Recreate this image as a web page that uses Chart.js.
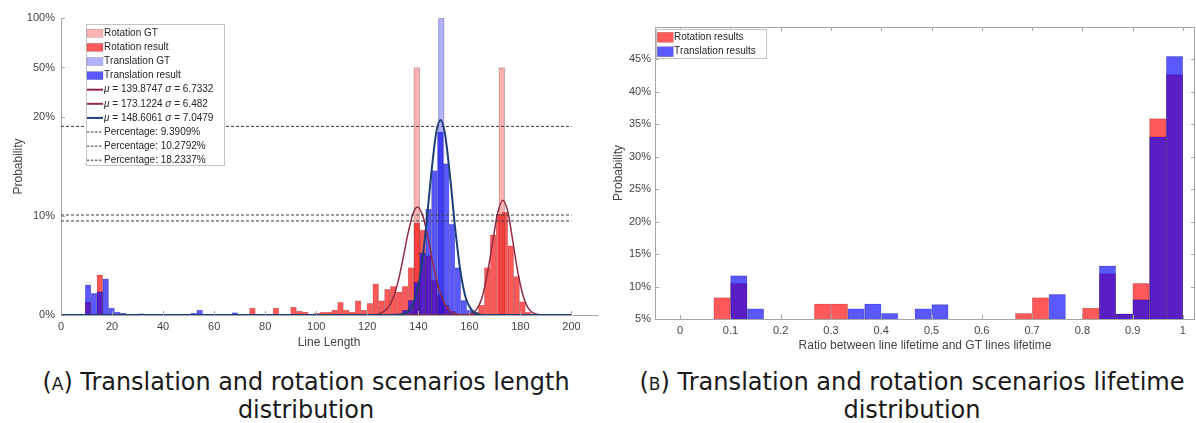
<!DOCTYPE html>
<html><head><meta charset="utf-8">
<script src="https://cdn.jsdelivr.net/npm/chart.js@4.4.0/dist/chart.umd.min.js"></script>
<style>
html,body{margin:0;padding:0;background:#fff;width:1196px;height:423px;overflow:hidden;}
#wrapA{position:absolute;left:0;top:0;width:600px;height:360px;}
#wrapB{position:absolute;left:600px;top:0;width:596px;height:360px;}
.cap{position:absolute;font-family:"DejaVu Sans",sans-serif;font-size:23.5px;color:#1a1a1a;text-align:center;line-height:28px;white-space:nowrap;}
.sc{font-variant:small-caps;}
</style></head><body>
<div id="wrapA"><canvas id="cA" width="600" height="360" style="width:600px;height:360px"></canvas></div>
<div id="wrapB"><canvas id="cB" width="596" height="360" style="width:596px;height:360px"></canvas></div>
<div class="cap" id="capA" style="left:6px;top:368px;width:600px;"><span class="l1">(<span class="sc">a</span>) Translation and rotation scenarios length</span><br>distribution</div>
<div class="cap" id="capB" style="left:612px;top:368px;width:600px;"><span class="l1">(<span class="sc">b</span>) Translation and rotation scenarios lifetime</span><br>distribution</div>
<script>
const FONT = '"Liberation Sans", Arial, sans-serif';
Chart.defaults.font.family = FONT;
Chart.defaults.color = '#444';

// ===== (A) length distribution =====
const lengthXTicks = [0,20,40,60,80,100,120,140,160,180,200];
const lengthYTickPct = [0,10,20,50,100];
const lengthYTickLabels = ['0%','10%','20%','50%','100%'];

const rotGTX = [139.4, 172.7];
const rotGTPct = [50, 50];
const rotResultX = [10.6,15.2,75.0,84.2,91.1,93.4,95.7,100.3,102.6,104.9,107.2,109.5,111.8,114.1,116.4,118.7,121.0,123.3,125.6,127.9,130.2,132.5,134.8,137.1,139.4,141.7,144.0,146.3,148.6,150.9,153.2,162.4,164.7,167.0,169.3,171.6,173.9,176.2,178.5,180.8,183.1];
const rotResultPct = [1.35,4.07,0.7,0.7,0.8,0.4,0.3,0.2,0.3,0.3,0.5,1.3,0.5,0.3,1.45,0.5,1.2,3.15,1.45,2.6,2.9,2.35,2.9,4.8,9.3,8.6,6.0,3.5,2.0,1.0,0.4,0.3,1.0,4.8,8.1,10.2,10.4,7.0,3.9,1.35,0.3];
const transGTX = [149.0];
const transGTPct = [100];
const transResultX = [10.6,12.9,15.2,17.5,19.8,22.1,24.4,29.0,31.3,40.5,52.0,54.3,68.1,134.8,137.1,139.4,141.7,144.0,146.3,148.6,150.9,153.2,155.5,157.8,160.1,162.4];
const transResultPct = [3.05,2.2,2.37,3.66,0.7,0.3,0.2,0.1,0.15,0.1,0.2,0.5,0.25,0.5,1.5,3.3,6.3,10.7,14.6,18.5,15.3,9.2,4.8,1.5,0.5,0.2];

const rotFit1X = [0,110,122,125,128,130,132,134,136,138,139.7,142,144,146,148,150,152,155,158,200];
const rotFit1Pct = [0,0,0.02,0.14,0.7,1.65,3.3,5.7,8.3,10.3,10.9,9.8,7.5,4.9,2.7,1.3,0.5,0.1,0.01,0];
const rotFit2X = [0,155,160,163,165,167,169,171,173.1,175,177,179,181,183,186,190,200];
const rotFit2Pct = [0,0,0.09,0.65,1.8,4.1,7.2,10.2,11.6,10.5,7.5,4.3,2.0,0.72,0.1,0,0];
const transFitX = [0,128,134,137,139,141,143,145,147,148.7,150.5,152.5,154.5,156.5,158.5,160.5,163.5,168,200];
const transFitPct = [0,0,0.09,0.67,1.9,4.5,8.8,14.1,18.4,19.7,18.2,13.8,8.6,4.4,1.8,0.64,0.09,0,0];
const fitLabels = ['μ = 139.8747 σ = 6.7332','μ = 173.1224 σ = 6.482','μ = 148.6061 σ = 7.0479'];

const percentLevels = [9.5, 10.1, 19.05];   // drawn heights
const percentLabels = ['Percentage: 9.3909%','Percentage: 10.2792%','Percentage: 18.2337%'];
const percentSpan = [0, 200];

// ===== (B) lifetime distribution =====
const lifetimeXTicks = [0,0.1,0.2,0.3,0.4,0.5,0.6,0.7,0.8,0.9,1];
const lifetimeXLabels = ['0','0.1','0.2','0.3','0.4','0.5','0.6','0.7','0.8','0.9','1'];
const lifetimeYTicks = [5,10,15,20,25,30,35,40,45];
const rotLifeX = [0.0833,0.1167,0.2833,0.3167,0.6833,0.7167,0.8167,0.85,0.8833,0.9167,0.95,0.9833];
const rotLifePct = [8.3,10.5,7.35,7.35,5.9,8.3,6.7,12.0,5.8,10.5,35.9,42.7];
const transLifeX = [0.1167,0.15,0.35,0.3833,0.4167,0.4833,0.5167,0.75,0.85,0.8833,0.9167,0.95,0.9833];
const transLifePct = [11.7,6.6,6.6,7.35,5.9,6.6,7.25,8.8,13.2,5.8,8.0,33.1,45.5];

// piecewise y axis of (A): 0-20% linear, 20-50% and 50-100% compressed
function yPos(p){ if(p<=20) return p; if(p<=50) return 20+(p-20)/6; return 25+(p-50)/10; }
const pts = (xs, ys, f) => xs.map((x,i)=>({x, y: f ? f(ys[i]) : ys[i]}));

const RED = 'rgba(255,0,0,0.65)', BLUE = 'rgba(0,0,255,0.65)';
const PINK = 'rgba(255,0,0,0.30)', LBLUE = 'rgba(0,0,255,0.30)';
const MAROON = '#8e2c45', NAVY = '#1d3f78';
const EDGE = 'rgba(0,0,0,0.22)';

function barDs(label, xs, ys, color, order, f, extra){
  return Object.assign({type:'bar', label, data: pts(xs, ys, f), backgroundColor: color, borderColor: EDGE,
    borderWidth: 0.6, grouped:false, barPercentage:1, categoryPercentage:1, order, clip:0, legendKind:'patch'}, extra||{});
}
function lineDs(label, xs, ys, color, width, order, f, kind, dash){
  return {type:'line', label, data: pts(xs, ys, f), borderColor: color, backgroundColor: color, borderWidth: width,
    pointRadius:0, fill:false, cubicInterpolationMode:'monotone', order, borderDash: dash || [], legendKind: kind};
}

function richText(ctx, text, x, y, size){
  let cx = x;
  for (const ch of text){
    ctx.font = ((ch==='μ'||ch==='σ') ? 'italic ' : '') + size + 'px ' + FONT;
    ctx.fillText(ch, cx, y);
    cx += ctx.measureText(ch).width;
  }
}
function legendPlugin(id, box, rowY0, rowDy, swX, swW, swH, textX, size){
  return {id, afterDraw(chart){
    const ctx = chart.ctx; ctx.save();
    ctx.fillStyle = '#fff'; ctx.fillRect(box[0], box[1], box[2], box[3]);
    ctx.strokeStyle = '#c4c4c4'; ctx.lineWidth = 1; ctx.setLineDash([]);
    ctx.strokeRect(box[0]+0.5, box[1]+0.5, box[2], box[3]);
    ctx.textBaseline = 'middle'; ctx.textAlign = 'left';
    chart.data.datasets.forEach((ds, i) => {
      const y = rowY0 + i*rowDy;
      if (ds.legendKind === 'patch'){
        ctx.fillStyle = ds.backgroundColor; ctx.fillRect(swX, y-swH/2, swW, swH);
        ctx.strokeStyle = 'rgba(0,0,0,0.25)'; ctx.lineWidth = 0.6; ctx.strokeRect(swX, y-swH/2, swW, swH);
      } else {
        ctx.strokeStyle = ds.borderColor; ctx.lineWidth = ds.legendKind==='dash' ? 1 : 2;
        ctx.setLineDash(ds.legendKind==='dash' ? [2.5,1.5] : []);
        ctx.beginPath(); ctx.moveTo(swX, y); ctx.lineTo(swX+swW, y); ctx.stroke(); ctx.setLineDash([]);
      }
      ctx.fillStyle = '#262626';
      richText(ctx, ds.label, textX, y, size);
    });
    ctx.restore();
  }};
}
function tickPlugin(id, box){
  return {id, afterDatasetsDraw(chart){
    const {ctx, chartArea:a, scales:{x,y}} = chart; ctx.save();
    ctx.strokeStyle = '#a6a6a6'; ctx.lineWidth = 1; ctx.setLineDash([]);
    ctx.beginPath();
    x.ticks.forEach(t => { const p = Math.round(x.getPixelForValue(t.value))+0.5;
      ctx.moveTo(p, a.bottom); ctx.lineTo(p, a.bottom-4);
      if (box){ ctx.moveTo(p, a.top); ctx.lineTo(p, a.top+4); } });
    y.ticks.forEach(t => { const p = Math.round(y.getPixelForValue(t.value))+0.5;
      ctx.moveTo(a.left, p); ctx.lineTo(a.left+4, p);
      if (box){ ctx.moveTo(a.right, p); ctx.lineTo(a.right-4, p); } });
    ctx.stroke();
    if (box){ ctx.strokeRect(Math.round(a.left)+0.5, Math.round(a.top)+0.5, Math.round(a.right-a.left)-1, Math.round(a.bottom-a.top)); }
    ctx.restore();
  }};
}

const tickFont = {family: FONT, size: 11};
const titleFont = {family: FONT, size: 12};

// ---- chart A ----
const dsA = [
  barDs('Rotation GT', rotGTX, rotGTPct, PINK, 7, yPos, {barThickness:6}),
  barDs('Rotation result', rotResultX, rotResultPct, RED, 8, yPos, {barThickness:6}),
  barDs('Translation GT', transGTX, transGTPct, LBLUE, 6, yPos, {barThickness:6}),
  barDs('Translation result', transResultX, transResultPct, BLUE, 5, yPos, {barThickness:6}),
  lineDs(fitLabels[0], rotFit1X, rotFit1Pct, MAROON, 1.5, 3, yPos, 'line'),
  lineDs(fitLabels[1], rotFit2X, rotFit2Pct, MAROON, 1.5, 3, yPos, 'line'),
  lineDs(fitLabels[2], transFitX, transFitPct, NAVY, 2, 2, yPos, 'line'),
  ...percentLevels.map((lv,i) => lineDs(percentLabels[i], percentSpan, [lv, lv], '#3a3a3a', 1, 1, yPos, 'dash', [3,2]))
];
new Chart(document.getElementById('cA'), {
  type:'bar', data:{datasets: dsA},
  options:{
    responsive:false, animation:false,
    layout:{padding:{left:0, right:3, top:18, bottom:0}},
    plugins:{legend:{display:false}, tooltip:{enabled:false}},
    scales:{
      x:{type:'linear', min:0, max:210, offset:false,
        afterBuildTicks: s => { s.ticks = lengthXTicks.map(v => ({value:v})); },
        grid:{display:false, drawTicks:false}, border:{display:true, color:'#a6a6a6'},
        ticks:{font:tickFont, color:'#444', padding:5, maxRotation:0, autoSkip:false, callback:(v,i)=>String(lengthXTicks[i])},
        title:{display:true, text:'Line Length', font:titleFont, color:'#444', padding:{top:0, bottom:10}},
        afterFit: s => { s.height = 45; }},
      y:{type:'linear', min:0, max:30,
        afterBuildTicks: s => { s.ticks = lengthYTickPct.map(p => ({value:yPos(p)})); },
        grid:{display:false, drawTicks:false}, border:{display:true, color:'#a6a6a6'},
        ticks:{font:tickFont, color:'#444', padding:6, autoSkip:false, callback:(v,i)=>lengthYTickLabels[i]},
        title:{display:true, text:'Probability', font:titleFont, color:'#444', padding:{top:11, bottom:0}},
        afterFit: s => { s.width = 61; }}
    }
  },
  plugins:[tickPlugin('ticksA', false), legendPlugin('legA', [86,24,138,141], 33.3, 14.1, 87, 16, 8, 104, 10)]
});

// ---- chart B ----
const dsB = [
  barDs('Rotation results', rotLifeX, rotLifePct, RED, 2),
  barDs('Translation results', transLifeX, transLifePct, BLUE, 1)
];
new Chart(document.getElementById('cB'), {
  type:'bar', data:{datasets: dsB},
  options:{
    responsive:false, animation:false,
    layout:{padding:{left:0, right:1, top:27, bottom:0}},
    plugins:{legend:{display:false}, tooltip:{enabled:false}},
    scales:{
      x:{type:'linear', min:-0.05, max:1.024, offset:false,
        afterBuildTicks: s => { s.ticks = lifetimeXTicks.map(v => ({value:v})); },
        grid:{display:false, drawTicks:false}, border:{display:false},
        ticks:{font:tickFont, color:'#444', padding:5, maxRotation:0, autoSkip:false, callback:(v,i)=>lifetimeXLabels[i]},
        title:{display:true, text:'Ratio between line lifetime and GT lines lifetime', font:titleFont, color:'#444', padding:{top:0, bottom:7}},
        afterFit: s => { s.height = 41; }},
      y:{type:'linear', min:5, max:50,
        afterBuildTicks: s => { s.ticks = lifetimeYTicks.map(v => ({value:v})); },
        grid:{display:false, drawTicks:false}, border:{display:false},
        ticks:{font:tickFont, color:'#444', padding:4, autoSkip:false, callback:(v,i)=>lifetimeYTicks[i]+'%'},
        title:{display:true, text:'Probability', font:titleFont, color:'#444', padding:{top:11, bottom:0}},
        afterFit: s => { s.width = 55; }}
    }
  },
  plugins:[tickPlugin('ticksB', true), legendPlugin('legB', [56,29,110,29], 37.3, 14.4, 57.3, 16, 10, 74, 10)]
});

// fit caption first lines to the reference widths
[['capA',527],['capB',545]].forEach(([id,w]) => {
  const el = document.getElementById(id), l1 = el.querySelector('.l1');
  const fs = parseFloat(getComputedStyle(el).fontSize);
  el.style.fontSize = (fs * w / l1.getBoundingClientRect().width).toFixed(2) + 'px';
});
</script>
</body></html>
